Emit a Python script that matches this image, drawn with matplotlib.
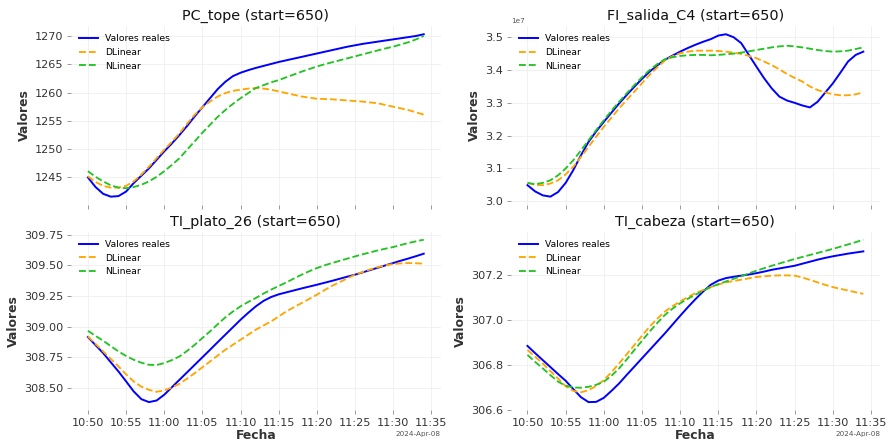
import numpy as np
import pandas as pd
import matplotlib
matplotlib.use("Agg")
import matplotlib.pyplot as plt
import matplotlib.dates as mdates

# ---- data -------------------------------------------------------------
fechas = pd.date_range("2024-04-08 10:50", periods=45, freq="min")

pc_real = [1245.0, 1243.3, 1242.1, 1241.6, 1241.7, 1242.5, 1244.0, 1245.3, 1246.6, 1248.1,
           1249.6, 1251.0, 1252.5, 1254.1, 1255.8, 1257.4, 1259.0, 1260.6, 1261.9, 1262.9,
           1263.5, 1263.95, 1264.35, 1264.7, 1265.05, 1265.4, 1265.7, 1266.0, 1266.3, 1266.6,
           1266.9, 1267.2, 1267.5, 1267.8, 1268.1, 1268.35, 1268.6, 1268.8, 1269.0, 1269.2,
           1269.4, 1269.6, 1269.8, 1270.0, 1270.3]
pc_dlinear = [1245.2, 1244.2, 1243.5, 1243.2, 1243.2, 1243.5, 1244.3, 1245.5, 1246.9, 1248.4,
              1249.9, 1251.3, 1252.8, 1254.5, 1256.1, 1257.4, 1258.4, 1259.3, 1259.9, 1260.3,
              1260.5, 1260.7, 1260.8, 1260.7, 1260.5, 1260.2, 1259.9, 1259.6, 1259.3, 1259.1,
              1258.9, 1258.85, 1258.8, 1258.7, 1258.6, 1258.5, 1258.4, 1258.25, 1258.1, 1257.8,
              1257.5, 1257.2, 1256.9, 1256.5, 1256.1]
pc_nlinear = [1246.1, 1245.1, 1244.3, 1243.6, 1243.2, 1243.1, 1243.3, 1243.7, 1244.3, 1245.1,
              1246.1, 1247.2, 1248.4, 1249.9, 1251.4, 1252.9, 1254.3, 1255.7, 1256.9, 1258.0,
              1259.0, 1259.9, 1260.8, 1261.3, 1261.8, 1262.2, 1262.7, 1263.2, 1263.7, 1264.15,
              1264.6, 1265.0, 1265.35, 1265.7, 1266.05, 1266.4, 1266.75, 1267.1, 1267.45, 1267.8,
              1268.1, 1268.5, 1268.9, 1269.4, 1270.0]

# FI_salida_C4 in units of 1e7
fi_real = [3.049, 3.030, 3.018, 3.014, 3.028, 3.056, 3.095, 3.140, 3.181, 3.213,
           3.242, 3.270, 3.298, 3.324, 3.349, 3.373, 3.395, 3.414, 3.431, 3.444,
           3.456, 3.467, 3.477, 3.486, 3.494, 3.505, 3.509, 3.500, 3.482, 3.446,
           3.410, 3.375, 3.344, 3.319, 3.307, 3.300, 3.292, 3.286, 3.303, 3.331,
           3.359, 3.392, 3.426, 3.446, 3.456]
fi_dlinear = [3.056, 3.050, 3.049, 3.054, 3.064, 3.082, 3.105, 3.135, 3.166, 3.197,
              3.227, 3.255, 3.283, 3.309, 3.334, 3.360, 3.385, 3.408, 3.429, 3.442,
              3.451, 3.456, 3.459, 3.459, 3.459, 3.458, 3.456, 3.453, 3.449, 3.443,
              3.436, 3.426, 3.415, 3.402, 3.388, 3.376, 3.365, 3.350, 3.339, 3.332,
              3.326, 3.323, 3.323, 3.326, 3.332]
fi_nlinear = [3.056, 3.052, 3.056, 3.064, 3.079, 3.100, 3.125, 3.155, 3.186, 3.217,
              3.247, 3.276, 3.303, 3.329, 3.354, 3.378, 3.400, 3.418, 3.433, 3.439,
              3.443, 3.445, 3.446, 3.446, 3.445, 3.446, 3.448, 3.450, 3.453, 3.457,
              3.461, 3.465, 3.469, 3.472, 3.474, 3.472, 3.469, 3.465, 3.461, 3.458,
              3.456, 3.457, 3.459, 3.464, 3.469]

plato_real = [308.916, 308.850, 308.785, 308.710, 308.636, 308.555, 308.473, 308.410, 308.386, 308.399,
              308.446, 308.507, 308.568, 308.629, 308.690, 308.751, 308.812, 308.874, 308.935, 308.996,
              309.057, 309.113, 309.166, 309.210, 309.242, 309.264, 309.280, 309.296, 309.312, 309.327,
              309.342, 309.358, 309.374, 309.391, 309.408, 309.424, 309.443, 309.462, 309.481, 309.500,
              309.519, 309.538, 309.556, 309.575, 309.595]
plato_dlinear = [308.921, 308.860, 308.799, 308.738, 308.677, 308.612, 308.554, 308.512, 308.486, 308.470,
                 308.481, 308.505, 308.535, 308.578, 308.622, 308.670, 308.717, 308.765, 308.812, 308.853,
                 308.894, 308.935, 308.976, 309.010, 309.043, 309.084, 309.125, 309.159, 309.193, 309.227,
                 309.261, 309.298, 309.334, 309.364, 309.394, 309.424, 309.446, 309.467, 309.486, 309.500,
                 309.511, 309.516, 309.519, 309.517, 309.514]
plato_nlinear = [308.967, 308.925, 308.886, 308.842, 308.799, 308.762, 308.731, 308.707, 308.690, 308.688,
                 308.704, 308.728, 308.758, 308.803, 308.853, 308.908, 308.962, 309.020, 309.076, 309.124,
                 309.166, 309.202, 309.234, 309.270, 309.302, 309.332, 309.361, 309.393, 309.424, 309.452,
                 309.478, 309.500, 309.519, 309.537, 309.555, 309.573, 309.590, 309.606, 309.622, 309.636,
                 309.649, 309.666, 309.682, 309.696, 309.709]

cabeza_real = [306.883, 306.851, 306.820, 306.789, 306.758, 306.728, 306.691, 306.655, 306.633, 306.634,
               306.652, 306.683, 306.716, 306.754, 306.791, 306.828, 306.865, 306.902, 306.939, 306.978,
               307.017, 307.055, 307.091, 307.125, 307.155, 307.174, 307.185, 307.191, 307.196, 307.201,
               307.207, 307.214, 307.222, 307.228, 307.234, 307.240, 307.249, 307.258, 307.267, 307.275,
               307.282, 307.288, 307.294, 307.299, 307.304]
cabeza_dlinear = [306.865, 306.835, 306.805, 306.771, 306.738, 306.704, 306.683, 306.677, 306.686, 306.705,
                  306.731, 306.766, 306.805, 306.846, 306.887, 306.928, 306.969, 307.004, 307.036, 307.060,
                  307.081, 307.100, 307.118, 307.132, 307.145, 307.156, 307.166, 307.172, 307.178, 307.184,
                  307.190, 307.193, 307.196, 307.197, 307.197, 307.196, 307.188, 307.177, 307.166, 307.155,
                  307.145, 307.137, 307.130, 307.122, 307.115]
cabeza_nlinear = [306.843, 306.812, 306.783, 306.753, 306.724, 306.706, 306.698, 306.697, 306.701, 306.710,
                  306.724, 306.750, 306.783, 306.823, 306.865, 306.906, 306.947, 306.985, 307.021, 307.049,
                  307.073, 307.093, 307.111, 307.128, 307.145, 307.158, 307.170, 307.182, 307.193, 307.206,
                  307.218, 307.229, 307.240, 307.250, 307.260, 307.270, 307.279, 307.288, 307.297, 307.306,
                  307.315, 307.325, 307.335, 307.345, 307.356]

variables = ["PC_tope", "FI_salida_C4", "TI_plato_26", "TI_cabeza"]
series = {
    "PC_tope": (pc_real, pc_dlinear, pc_nlinear, 1.0),
    "FI_salida_C4": (fi_real, fi_dlinear, fi_nlinear, 1e7),
    "TI_plato_26": (plato_real, plato_dlinear, plato_nlinear, 1.0),
    "TI_cabeza": (cabeza_real, cabeza_dlinear, cabeza_nlinear, 1.0),
}
start = 650

# ---- figure -----------------------------------------------------------
plt.rcParams.update({
    "font.family": ["DejaVu Sans"],
    "axes.edgecolor": "none",
    "axes.facecolor": "white",
    "xtick.color": "#888888",
    "ytick.color": "#888888",
    "xtick.labelcolor": "#333333",
    "ytick.labelcolor": "#333333",
    "xtick.labelsize": 11,
    "ytick.labelsize": 11,
})

dpi = 889 / 12
fig, axes = plt.subplots(2, 2, figsize=(12, 443 / dpi), dpi=dpi, sharex=True)
fig.subplots_adjust(left=0.080, right=0.990, bottom=0.074, top=0.941,
                    wspace=0.19, hspace=0.15)

for ax, name in zip(axes.flat, variables):
    real, dlin, nlin, scale = series[name]
    ax.plot(fechas, np.array(real) * scale, color="blue", lw=1.9, label="Valores reales")
    ax.plot(fechas, np.array(dlin) * scale, color="orange", lw=1.8, ls="--", label="DLinear")
    ax.plot(fechas, np.array(nlin) * scale, color="#22c322", lw=1.8, ls="--", label="NLinear")
    ax.set_title(f"{name} (start={start})", fontsize=14, color="#111111")
    ax.set_ylabel("Valores", fontsize=12, fontweight="bold", color="#333333")
    ax.grid(True, color="#efefef", lw=0.8)
    ax.set_axisbelow(True)
    ax.tick_params(length=4, width=0.8)
    ax.legend(loc="upper left", frameon=False, fontsize=9)
    ax.yaxis.get_offset_text().set_fontsize(7)
    ax.yaxis.get_offset_text().set_color("#555555")

for ax in axes[1]:
    loc = mdates.MinuteLocator(byminute=range(0, 60, 5))
    fmt = mdates.ConciseDateFormatter(loc)
    ax.xaxis.set_major_locator(loc)
    ax.xaxis.set_major_formatter(fmt)
    ax.set_xlabel("Fecha", fontsize=12, fontweight="bold", color="#333333", labelpad=1)
    ax.xaxis.get_offset_text().set_fontsize(7)
    ax.xaxis.get_offset_text().set_color("#555555")

for ax in axes[0]:
    ax.tick_params(axis="x", labelbottom=False)
    ax.xaxis.get_offset_text().set_visible(False)

fig.savefig("out.png", dpi=dpi)
